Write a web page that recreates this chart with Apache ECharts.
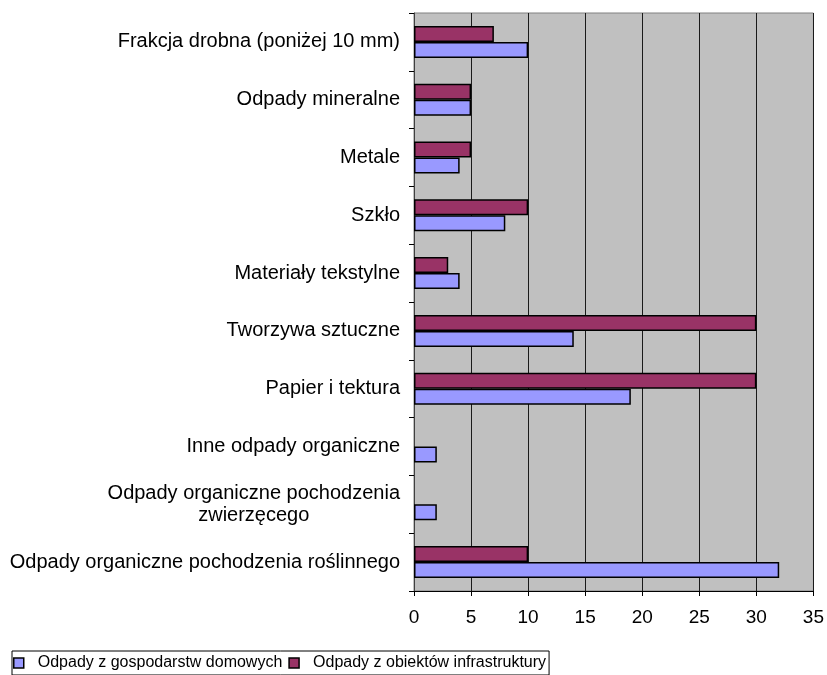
<!DOCTYPE html>
<html>
<head>
<meta charset="utf-8">
<script src="https://cdn.jsdelivr.net/npm/echarts@6/dist/echarts.min.js"></script>
<style>
  html, body { margin: 0; padding: 0; background: #fff; }
  #chart { width: 827px; height: 675px; }
</style>
</head>
<body>
<div id="chart"></div>
<script>
// Waste composition by fraction (%), bottom-to-top category order
const categories = [
  'Odpady organiczne pochodzenia roślinnego',
  'Odpady organiczne pochodzenia\nzwierzęcego',
  'Inne odpady organiczne',
  'Papier i tektura',
  'Tworzywa sztuczne',
  'Materiały tekstylne',
  'Szkło',
  'Metale',
  'Odpady mineralne',
  'Frakcja drobna (poniżej 10 mm)'
];
const householdName = 'Odpady z gospodarstw domowych';
const infraName = 'Odpady z obiektów infrastruktury';
const householdValues = [32, 2, 2, 19, 14, 4, 8, 4, 5, 10];
const infraValues = [10, 0, 0, 30, 30, 3, 10, 5, 5, 7];
const xTicks = { min: 0, max: 35, interval: 5 };

const font = 'Liberation Sans, Arial, sans-serif';
const chart = echarts.init(document.getElementById('chart'));

// zero-length bars get no outline so they stay invisible
function barData(values) {
  return values.map(function (v) {
    return v === 0 ? { value: v, itemStyle: { borderWidth: 0 } } : v;
  });
}

chart.setOption({
  animation: false,
  backgroundColor: '#ffffff',
  grid: {
    left: 414, right: 10, top: 13, bottom: 84,
    show: true, backgroundColor: '#c0c0c0', borderColor: '#808080', borderWidth: 1
  },
  xAxis: {
    type: 'value',
    min: xTicks.min, max: xTicks.max, interval: xTicks.interval,
    axisLine: { show: true, lineStyle: { color: '#000', width: 1 } },
    axisTick: { show: true, length: 5, lineStyle: { color: '#000' } },
    axisLabel: { color: '#000', fontFamily: font, fontSize: 19, margin: 17 },
    splitLine: { show: true, lineStyle: { color: '#1a1a1a', width: 1 } }
  },
  yAxis: {
    type: 'category',
    data: categories,
    axisLine: { show: true, lineStyle: { color: '#404040', width: 1 } },
    axisTick: { show: true, length: 5, inside: false, lineStyle: { color: '#000' } },
    axisLabel: {
      color: '#000', fontFamily: font, fontSize: 20, margin: 14,
      formatter: function (v) {
        return v.split('\n').map(function (s) { return '{c|' + s + '}'; }).join('\n');
      },
      rich: { c: { align: 'center', color: '#000', fontFamily: font, fontSize: 20, lineHeight: 22 } }
    },
    splitLine: { show: false }
  },
  legend: {
    data: [householdName, infraName],
    left: 12, top: 651,
    orient: 'horizontal',
    padding: [4, 3, 4, 1],
    borderColor: '#000', borderWidth: 1,
    itemWidth: 10, itemHeight: 10, itemGap: 6,
    icon: 'rect',
    itemStyle: { borderColor: '#000', borderWidth: 1.5 },
    textStyle: { color: '#000', fontFamily: font, fontSize: 16, padding: [0, 0, 0, 9] }
  },
  series: [
    {
      name: infraName, type: 'bar', data: barData(infraValues),
      barWidth: 16, barGap: '0%',
      itemStyle: { color: '#993366', borderColor: '#000', borderWidth: 1.5 }
    },
    {
      name: householdName, type: 'bar', data: barData(householdValues),
      barWidth: 16, barGap: '0%',
      itemStyle: { color: '#9999ff', borderColor: '#000', borderWidth: 1.5 }
    }
  ]
});
</script>
</body>
</html>
